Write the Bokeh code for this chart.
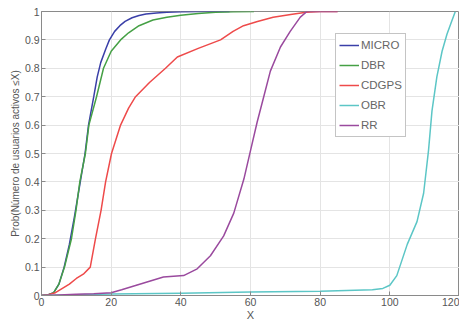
from bokeh.plotting import figure
from bokeh.models import FixedTicker, CustomJSTickFormatter, Legend, LegendItem, Range1d
from bokeh.embed import file_html
from bokeh.resources import INLINE

# ---- data ----
micro_x = [0, 2, 3.5, 5, 6.5, 8, 9.5, 11, 12.5, 13.5, 15, 16, 17, 18.5, 19.5, 21, 22.5, 24, 26, 28, 30, 33, 36, 40, 45, 50, 54]
micro_y = [0, 0.003, 0.01, 0.04, 0.1, 0.18, 0.28, 0.39, 0.5, 0.6, 0.7, 0.77, 0.82, 0.87, 0.9, 0.93, 0.95, 0.965, 0.978, 0.986, 0.991, 0.995, 0.997, 0.999, 1, 1, 1]

dbr_x = [0, 2, 3.5, 5, 6.6, 8.6, 9.9, 11, 12.6, 13.6, 15.8, 17.8, 20, 22.7, 25, 28, 32, 36, 40, 45, 50, 55, 61]
dbr_y = [0, 0.003, 0.01, 0.04, 0.1, 0.2, 0.3, 0.4, 0.5, 0.6, 0.7, 0.8, 0.86, 0.9, 0.925, 0.95, 0.97, 0.98, 0.987, 0.993, 0.997, 0.999, 1]

cdgps_x = [0, 2, 4, 6, 8, 10, 12, 14, 15.5, 17.1, 18.4, 20.1, 22.7, 25, 27, 31, 35.6, 39, 45, 51.4, 55, 58, 62, 66.5, 72, 76, 80, 85]
cdgps_y = [0, 0.003, 0.01, 0.025, 0.04, 0.06, 0.075, 0.1, 0.2, 0.3, 0.4, 0.5, 0.6, 0.66, 0.7, 0.75, 0.8, 0.84, 0.87, 0.9, 0.93, 0.95, 0.965, 0.98, 0.99, 0.997, 1, 1]

obr_x = [0, 10, 20, 40, 60, 80, 95, 98, 100, 102, 105, 107.8, 109.7, 111.1, 112.1, 113.5, 115, 116.4, 117.6, 118.8]
obr_y = [0, 0.003, 0.005, 0.008, 0.012, 0.015, 0.02, 0.025, 0.036, 0.07, 0.18, 0.26, 0.36, 0.51, 0.65, 0.77, 0.86, 0.92, 0.96, 1.0]

rr_x = [0, 5, 10, 15, 20, 23, 27, 31, 35, 40.8, 44.7, 48.5, 52.3, 55.2, 58.1, 60, 61.9, 63.8, 65.7, 68.6, 71.4, 74.3, 76.2, 80, 85]
rr_y = [0, 0.002, 0.004, 0.006, 0.01, 0.02, 0.035, 0.05, 0.065, 0.07, 0.094, 0.14, 0.21, 0.29, 0.41, 0.51, 0.61, 0.70, 0.79, 0.875, 0.93, 0.98, 1.0, 1, 1]

series_names = ["MICRO", "DBR", "CDGPS", "OBR", "RR"]
series_colors = ["#3a3fa8", "#45a045", "#ee4a4a", "#5cc6c6", "#9a4a9e"]
x_ticks = [0, 20, 40, 60, 80, 100, 120]
y_ticks = [0, 0.1, 0.2, 0.3, 0.4, 0.5, 0.6, 0.7, 0.8, 0.9, 1.0]

FONT = "Liberation Sans"
TXT = "#555555"

p = figure(frame_width=418, frame_height=284, output_backend="svg", toolbar_location=None,
           x_range=Range1d(0, 120), y_range=Range1d(0, 1))
p.min_border_left = 41
p.min_border_right = 0
p.min_border_top = 11
p.min_border_bottom = 20
p.background_fill_color = "white"
p.border_fill_color = "white"
p.outline_line_color = "#8a8a8a"

p.xaxis.ticker = FixedTicker(ticks=x_ticks)
p.yaxis.ticker = FixedTicker(ticks=y_ticks)
p.yaxis.formatter = CustomJSTickFormatter(code="return (Math.round(tick*10)/10).toString();")
for ax in (p.xaxis[0], p.yaxis[0]):
    ax.major_tick_in = 4
    ax.major_tick_out = 0
    ax.minor_tick_in = 0
    ax.minor_tick_out = 0
    ax.axis_line_color = "#8a8a8a"
    ax.major_tick_line_color = "#8a8a8a"
    ax.major_label_text_font = FONT
    ax.major_label_text_font_size = "10.5px"
    ax.major_label_text_color = TXT
    ax.axis_label_text_font = FONT
    ax.axis_label_text_font_style = "normal"
    ax.axis_label_text_color = TXT
ax = p.xaxis[0]
ax.axis_label = "X"
ax.axis_label_text_font_size = "11px"
ax.major_label_standoff = 2
ax.axis_label_standoff = 0
ay = p.yaxis[0]
ay.axis_label = "Prob(Número de usuarios activos ≤X)"
ay.axis_label_text_font_size = "10px"
ay.major_label_standoff = 2
ay.axis_label_standoff = 1

p.grid.grid_line_color = "#e4e4e4"
p.grid.grid_line_width = 1

data = [(micro_x, micro_y), (dbr_x, dbr_y), (cdgps_x, cdgps_y), (obr_x, obr_y), (rr_x, rr_y)]
items = []
for (xs, ys), name, col in zip(data, series_names, series_colors):
    r = p.line(xs, ys, line_color=col, line_width=1.5)
    items.append(LegendItem(label=name, renderers=[r]))

legend = Legend(items=items, location=(294, 158))
legend.label_text_font = FONT
legend.label_text_font_size = "11.5px"
legend.label_text_color = "#666666"
legend.glyph_width = 20
legend.glyph_height = 16
legend.label_height = 16
legend.spacing = 4
legend.padding = 3
legend.margin = 0
legend.label_standoff = 2
legend.border_line_color = "#8a8a8a"
legend.background_fill_alpha = 1
p.add_layout(legend)

open("out.html", "w").write(file_html(p, INLINE))
